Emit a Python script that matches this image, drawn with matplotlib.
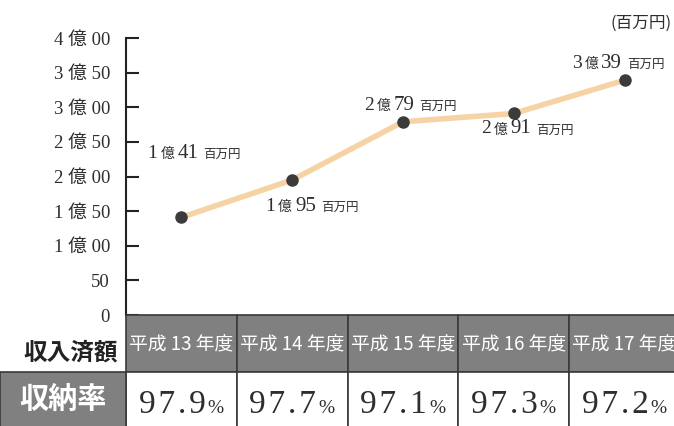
import matplotlib
matplotlib.use('Agg')
import matplotlib.pyplot as plt
from matplotlib.patches import Rectangle

# ---- data ----
years = ['平成 13 年度', '平成 14 年度', '平成 15 年度', '平成 16 年度', '平成 17 年度']
amounts = [141, 195, 279, 291, 339]          # 百万円
amount_oku = ['1', '1', '2', '2', '3']
amount_rest = ['41', '95', '79', '91', '39']
rates = ['97.9', '97.7', '97.1', '97.3', '97.2']
ytick_values = [0, 50, 100, 150, 200, 250, 300, 350, 400]
ytick_labels = ['0', '50', '1 億 00', '1 億 50', '2 億 00', '2 億 50',
                '3 億 00', '3 億 50', '4 億 00']
# label offsets (pixels) relative to each point: (dx, dy of baseline)
label_offsets = [(-34, 59), (-27, -31), (-39, 12), (-33, -20), (-53, 12)]

SERIF = ['Liberation Serif', 'Noto Sans CJK JP']
SANS = ['Noto Sans CJK JP', 'DejaVu Sans']
TXT = '#2e2e2e'
GRAY = '#808080'
EDGE = '#3a3a3a'

W, H = 674, 426
fig = plt.figure(figsize=(W / 100, H / 100), dpi=100)

# ---- chart axes ----
col_w = 110.8
left_px = 126
ax = fig.add_axes([left_px / W, (H - 315) / H, 5 * col_w / W, 277 / H])
ax.set_xlim(-0.5, 4.5)
ax.set_ylim(0, 400)
for s in ['top', 'right', 'bottom']:
    ax.spines[s].set_visible(False)
ax.spines['left'].set_linewidth(1.5)
ax.spines['left'].set_color('#222222')
ax.set_xticks([])
ax.set_yticks(ytick_values)
ax.set_yticklabels(ytick_labels, family=SERIF, fontsize=13.5, color=TXT)
ax.tick_params(axis='y', direction='in', length=9.5, width=1.5, pad=11.5,
               color='#222222')
ax.patch.set_alpha(0)

xs = list(range(len(amounts)))
ax.plot(xs, amounts, color='#f6d3a4', lw=4, solid_capstyle='round', zorder=2)
ax.plot(xs, amounts, 'o', ms=8, color='#3b3b3b', zorder=3)

pieces_fmt = [(14, SERIF), (10, SANS), (15, SERIF), (9, SANS)]
for i, (x, y) in enumerate(zip(xs, amounts)):
    dx, dy = label_offsets[i]
    parts = [amount_oku[i], '億', amount_rest[i], '百万円']
    gaps = [0, 3, 3, 5]
    prev = None
    for p, (fs, fam), g in zip(parts, pieces_fmt, gaps):
        if prev is None:
            prev = ax.annotate(p, xy=(x, y), xytext=(dx, dy),
                               textcoords='offset pixels', ha='left',
                               va='baseline', fontsize=fs, family=fam,
                               color=TXT, annotation_clip=False)
        else:
            prev = ax.annotate(p, xy=(1, y), xycoords=(prev, 'data'),
                               xytext=(g, dy), textcoords='offset pixels',
                               ha='left', va='baseline', fontsize=fs,
                               family=fam, color=TXT, annotation_clip=False)

fig.text(672 / W, 1 - 23 / H, '(百万円)', ha='right', va='center',
         fontsize=12, family=SANS, color=TXT)

# ---- table ----
tax = fig.add_axes([0, 0, 1, 111 / H])
tax.set_xlim(0, W)
tax.set_ylim(111, 0)
tax.axis('off')

hdr_h = 57
for i, yr in enumerate(years):
    x0 = left_px + i * col_w
    tax.add_patch(Rectangle((x0, 0), col_w, hdr_h, fc=GRAY, ec=EDGE, lw=1.2,
                            clip_on=False))
    tax.text(x0 + col_w / 2, hdr_h / 2 + 1, yr, ha='center', va='center',
             fontsize=13.5, family=SANS, color='white', clip_on=True)
    tax.add_patch(Rectangle((x0, hdr_h), col_w, 70, fc='white', ec=EDGE,
                            lw=1.2, clip_on=False))
    spaced = '\u200a'.join(rates[i])
    t = tax.annotate(spaced, xy=(x0 + col_w / 2 + 24, 98), ha='right',
                     va='baseline', fontsize=24, family=SERIF, color=TXT,
                     annotation_clip=False)
    tax.annotate('%', xy=(1, 98), xycoords=(t, 'data'), xytext=(2, 0),
                 textcoords='offset pixels', ha='left', va='baseline',
                 fontsize=14, family=SERIF, color=TXT, annotation_clip=False)

tax.add_patch(Rectangle((0, hdr_h), left_px, 70, fc=GRAY, ec=EDGE, lw=1.2,
                        clip_on=False))
tax.text(left_px / 2, hdr_h + 27, '収納率', ha='center', va='center',
         fontsize=21, family=SANS, weight='bold', color='white')
tax.text(left_px / 2 + 8, hdr_h / 2 + 9, '収入済額', ha='center', va='center',
         fontsize=17, family=SANS, weight='bold', color='#222222')

fig.savefig('out.png', dpi=100)
